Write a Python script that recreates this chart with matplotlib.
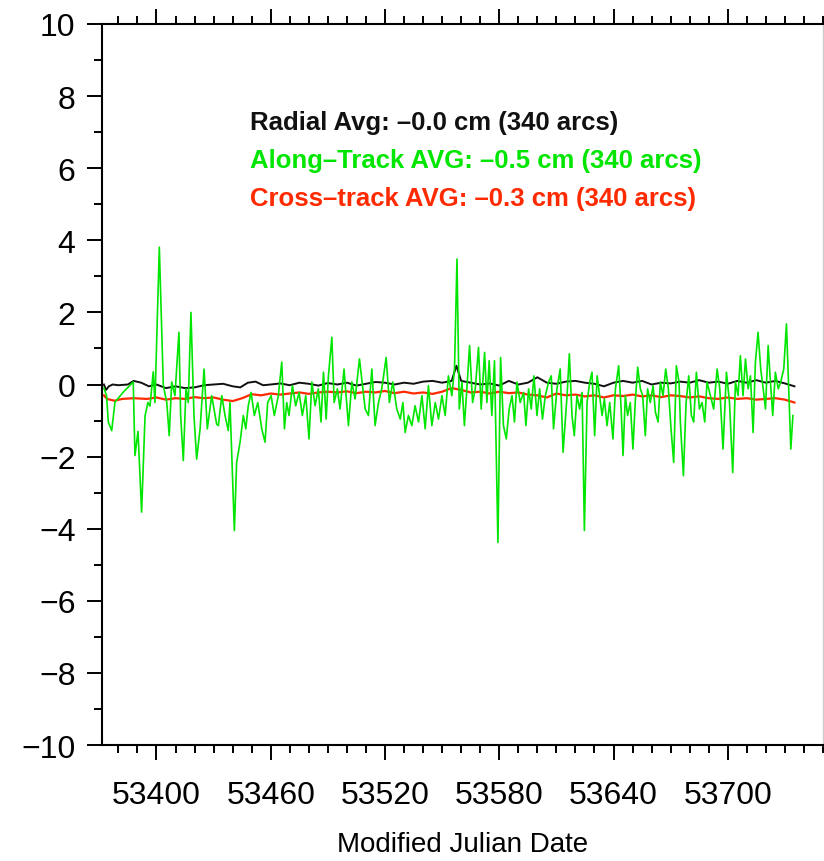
import matplotlib
matplotlib.use('Agg')
import matplotlib.pyplot as plt
from matplotlib.ticker import MultipleLocator

plt.rcParams['font.family'] = ['Liberation Sans', 'DejaVu Sans']

# Along-track (groen)
along_mjd = [53372.4, 53373.8, 53374.7, 53376.5, 53378.2, 53382.6, 53387.8, 53388.7, 53390.3, 53392.2,
             53394.0, 53395.5, 53396.6, 53398.3, 53399.2, 53401.5, 53403.6, 53405.4, 53406.7, 53408.0,
             53409.7, 53411.8, 53412.7, 53414.1, 53415.5, 53416.7, 53418.1, 53419.7, 53421.1, 53422.9,
             53425.0, 53426.7, 53429.0, 53431.6, 53432.5, 53434.3, 53436.0, 53437.7, 53438.6, 53440.9,
             53442.1, 53443.9, 53445.6, 53446.9, 53448.2, 53449.7, 53451.4, 53453.2, 53455.3, 53457.0,
             53458.4, 53460.2, 53461.9, 53464.0, 53465.8, 53467.2, 53468.4, 53469.6, 53471.4, 53473.1,
             53474.9, 53476.6, 53478.4, 53480.1, 53481.6, 53483.3, 53485.0, 53486.4, 53487.7, 53489.1,
             53490.3, 53492.1, 53493.3, 53495.0, 53496.4, 53498.5, 53500.8, 53502.6, 53504.3, 53506.6,
             53508.0, 53509.6, 53511.3, 53513.1, 53514.8, 53516.6, 53518.3, 53520.6, 53522.3, 53524.1,
             53526.2, 53528.0, 53529.4, 53530.6, 53532.3, 53534.1, 53535.8, 53537.6, 53539.4, 53541.1,
             53542.8, 53544.6, 53546.4, 53548.1, 53549.9, 53551.6, 53553.3, 53555.1, 53556.5, 53557.8,
             53559.0, 53560.4, 53561.7, 53563.0, 53564.4, 53566.0, 53567.4, 53569.1, 53570.5, 53572.3,
             53573.5, 53574.7, 53576.1, 53577.5, 53579.3, 53580.7, 53582.2, 53583.7, 53585.2, 53586.7,
             53588.0, 53589.3, 53591.0, 53592.8, 53594.0, 53595.4, 53596.8, 53598.2, 53599.8, 53601.2,
             53602.7, 53604.2, 53605.9, 53607.3, 53608.5, 53610.3, 53612.0, 53613.5, 53615.6, 53616.8,
             53618.2, 53619.4, 53620.8, 53622.2, 53623.5, 53624.7, 53626.1, 53627.5, 53628.7, 53630.1,
             53631.4, 53632.7, 53634.0, 53635.2, 53636.6, 53638.0, 53639.7, 53641.0, 53642.7, 53644.0,
             53645.0, 53646.2, 53647.4, 53648.8, 53650.2, 53651.4, 53652.7, 53654.1, 53655.3, 53656.7,
             53657.9, 53659.3, 53660.8, 53662.0, 53663.4, 53664.6, 53666.0, 53667.4, 53668.8, 53670.2,
             53671.6, 53673.0, 53674.4, 53675.1, 53676.7, 53678.1, 53679.5, 53680.9, 53682.1, 53683.5,
             53685.1, 53686.5, 53687.9, 53689.1, 53690.9, 53692.6, 53694.4, 53695.8, 53697.5, 53699.3,
             53700.9, 53702.6, 53704.0, 53705.4, 53706.6, 53708.0, 53709.3, 53710.7, 53711.9, 53713.3,
             53714.5, 53715.9, 53717.3, 53718.6, 53719.8, 53721.2, 53722.4, 53723.6, 53725.0, 53726.5,
             53727.8, 53729.4, 53730.8, 53732.0, 53733.1, 53734.2]
along_val = [-0.10, -0.31, -1.04, -1.28, -0.49, -0.21, 0.07, -1.97, -1.30, -3.54,
             -0.87, -0.50, -0.60, 0.35, -0.50, 3.81, -0.03, -0.49, -1.42, 0.07,
             -0.31, 1.45, -0.86, -2.11, -0.12, -0.50, 2.00, -0.86, -2.07, -1.23,
             0.43, -1.23, -0.31, -1.10, -1.14, -0.31, -0.86, -1.28, -0.50, -4.05,
             -2.16, -1.60, -0.86, -1.23, -0.59, -0.22, -0.86, -0.50, -1.23, -1.60,
             -0.50, -0.31, -0.86, -0.31, 0.62, -1.23, -0.50, -0.86, -0.03, -0.59,
             -0.22, -0.86, -0.31, -1.51, 0.07, -0.59, -0.12, -1.04, 0.34, -0.96,
             0.24, 1.31, -0.50, -0.12, -0.68, 0.43, -1.14, 0.07, -0.40, 0.71,
             0.07, -0.68, -0.86, 0.43, -1.14, -0.50, -0.12, 0.75, -0.50, 0.07,
             -0.68, -0.96, -0.50, -1.33, -0.86, -1.14, -0.59, -1.04, -0.31, -1.23,
             -0.03, -1.14, -0.50, -0.96, -0.31, -0.86, 0.24, -0.31, 0.43, 3.48,
             -0.68, 0.07, -1.14, -0.12, 1.08, -0.50, -0.12, 1.03, -0.68, 0.89,
             -0.50, 0.66, -0.86, 0.66, -4.38, 0.75, -1.14, -1.51, -0.68, -0.31,
             -1.04, 0.07, -0.50, -0.22, -1.14, -0.12, -0.68, 0.24, -0.86, -0.12,
             -0.96, -0.31, 0.07, 0.24, -1.23, -0.12, 0.43, -1.88, -0.31, 0.85,
             -0.86, -1.42, -0.31, -0.68, -0.22, -4.05, -0.50, 0.07, 0.34, -1.42,
             0.24, -0.31, -0.86, -0.40, -1.14, -0.50, -1.51, -0.12, 0.52, -0.68,
             -1.97, -0.31, -0.86, -0.50, -1.79, -0.50, 0.48, -0.12, -0.31, -1.42,
             -0.12, -0.50, -0.03, -0.77, -1.04, 0.07, -0.31, 0.43, -0.12, -1.23,
             -2.16, 0.52, 0.07, -1.04, -2.53, -0.50, 0.24, -0.86, -1.04, 0.34,
             -0.68, -0.50, -1.04, 0.07, -0.31, -0.68, 0.43, -0.12, -1.79, 0.34,
             -0.50, -2.44, 0.07, -0.31, 0.80, -0.31, 0.71, -0.12, 0.24, -1.33,
             0.62, 1.45, 0.43, -0.12, -0.68, 1.08, 0.07, -0.86, 0.34, -0.12,
             0.07, 0.43, 1.68, -0.12, -1.79, -0.86]

# Radial (zwart)
radial_mjd = [53372.4, 53373.5, 53375, 53377, 53380, 53385, 53388, 53392, 53396, 53400,
              53405, 53410, 53415, 53420, 53425, 53430, 53435, 53440, 53444, 53448,
              53452, 53456, 53460, 53465, 53470, 53475, 53480, 53485, 53490, 53495,
              53500, 53505, 53510, 53515, 53520, 53525, 53530, 53535, 53540, 53545,
              53550, 53555, 53557.5, 53560, 53565, 53570, 53575, 53580, 53585, 53590,
              53595, 53600, 53605, 53610, 53615, 53620, 53625, 53630, 53635, 53640,
              53645, 53650, 53655, 53660, 53665, 53670, 53675, 53680, 53685, 53690,
              53695, 53700, 53705, 53710, 53715, 53720, 53725, 53730, 53735]
radial_val = [0.0, -0.15, -0.05, 0.0, -0.02, 0.0, 0.1, 0.05, -0.05, 0.0,
              -0.1, -0.05, -0.1, -0.08, -0.02, 0.0, 0.02, -0.05, -0.08, 0.05,
              0.08, -0.02, 0.0, 0.03, -0.02, 0.05, 0.02, -0.03, 0.04, 0.0,
              0.05, -0.03, 0.02, 0.07, 0.05, 0.0, 0.05, 0.02, 0.08, 0.1,
              0.05, 0.1, 0.52, 0.1, 0.05, 0.0, 0.03, -0.03, 0.1, 0.0,
              0.05, 0.2, 0.05, 0.02, 0.08, 0.1, 0.05, 0.02, -0.05, 0.05,
              0.1, 0.05, 0.1, 0.0, 0.05, 0.03, 0.08, 0.05, 0.12, 0.05,
              0.08, 0.02, 0.1, 0.05, 0.12, 0.05, 0.1, 0.03, -0.05]

# Cross-track (rood)
cross_mjd = [53372.4, 53374, 53378, 53382, 53388, 53395, 53400, 53405, 53410, 53415,
             53420, 53425, 53430, 53435, 53440, 53445, 53450, 53455, 53460, 53465,
             53470, 53475, 53480, 53485, 53490, 53495, 53500, 53505, 53510, 53515,
             53520, 53525, 53530, 53535, 53540, 53545, 53550, 53555, 53560, 53565,
             53570, 53575, 53580, 53585, 53590, 53595, 53600, 53605, 53610, 53615,
             53620, 53625, 53630, 53635, 53640, 53645, 53650, 53655, 53660, 53665,
             53670, 53675, 53680, 53685, 53690, 53695, 53700, 53705, 53710, 53715,
             53720, 53725, 53730, 53735]
cross_val = [-0.3, -0.4, -0.45, -0.4, -0.38, -0.4, -0.36, -0.42, -0.38, -0.4,
             -0.35, -0.38, -0.36, -0.42, -0.46, -0.38, -0.27, -0.3, -0.25, -0.28,
             -0.25, -0.22, -0.26, -0.22, -0.2, -0.22, -0.19, -0.24, -0.2, -0.22,
             -0.18, -0.24, -0.2, -0.25, -0.22, -0.26, -0.2, -0.1, -0.15, -0.22,
             -0.2, -0.25, -0.2, -0.24, -0.22, -0.28, -0.3, -0.36, -0.25, -0.3,
             -0.28, -0.33, -0.3, -0.36, -0.3, -0.32, -0.28, -0.33, -0.3, -0.35,
             -0.3, -0.32, -0.36, -0.33, -0.38, -0.4, -0.36, -0.4, -0.38, -0.42,
             -0.4, -0.38, -0.42, -0.5]

labels = ['Radial Avg: \u20130.0 cm (340 arcs)',
          'Along\u2013Track AVG: \u20130.5 cm (340 arcs)',
          'Cross\u2013track AVG: \u20130.3 cm (340 arcs)']
kleuren = ['#111111', '#00e600', '#ff2a00']

fig = plt.figure(figsize=(8.24, 8.62), dpi=100)
ax = fig.add_axes([102/824, 1 - 746/862, 721/824, 721/862])

ax.plot(cross_mjd, cross_val, color=kleuren[2], lw=1.6)
ax.plot(radial_mjd, radial_val, color=kleuren[0], lw=1.4)
ax.plot(along_mjd, along_val, color=kleuren[1], lw=1.2)

ax.set_xlim(53371.4, 53750)
ax.set_ylim(-10, 10)
ax.xaxis.set_major_locator(MultipleLocator(60))
ax.xaxis.set_minor_locator(MultipleLocator(10))
ax.yaxis.set_major_locator(MultipleLocator(2))
ax.yaxis.set_minor_locator(MultipleLocator(1))

ax.tick_params(which='both', direction='out', top=True, right=False, width=1.4,
               labelsize=23)
ax.tick_params(which='major', length=11)
ax.tick_params(which='minor', length=5.5)
ax.tick_params(axis='y', pad=8)
ax.tick_params(axis='x', pad=14)

for s in ['left', 'bottom', 'top']:
    ax.spines[s].set_linewidth(1.5)
ax.spines['right'].set_color('#cccccc')
ax.spines['right'].set_linewidth(1.0)

ax.set_xlabel('Modified Julian Date', fontsize=20, labelpad=15)

for i, (txt, kl) in enumerate(zip(labels, kleuren)):
    ax.text(0.205, 0.864 - i * 0.053, txt, transform=ax.transAxes, color=kl,
            fontsize=18.5, fontweight='bold', va='center', ha='left')

plt.savefig('out.png', dpi=100)
